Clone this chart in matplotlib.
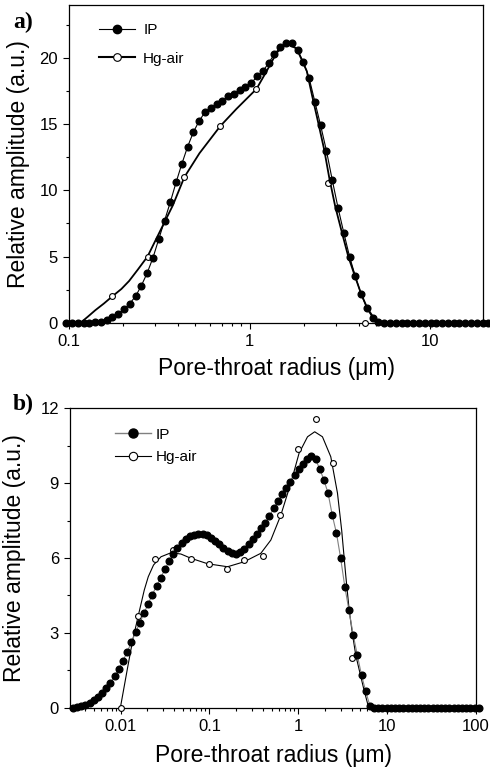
import numpy as np
import matplotlib
matplotlib.use("Agg")
import matplotlib.pyplot as plt
from matplotlib.lines import Line2D
from matplotlib.ticker import AutoMinorLocator, LogLocator, NullFormatter

plt.rcParams["font.family"] = ["Liberation Sans", "DejaVu Sans"]

# ---- panel a) ----
# IP: log-spaced radius bins (um)
ip_a_x = np.logspace(np.log10(0.0965), np.log10(20.9), 74)
ip_a_y = [0, 0, 0, 0, 0,
          0.02, 0.08, 0.2, 0.45, 0.68,
          1.0, 1.45, 2.0, 2.8, 3.75,
          4.9, 6.3, 7.7, 9.1, 10.6,
          12.0, 13.3, 14.4, 15.25, 15.9,
          16.25, 16.5, 16.75, 17.1, 17.3,
          17.55, 17.8, 18.1, 18.6, 19.0,
          19.6, 20.3, 20.8, 21.1, 21.1,
          20.6, 19.7, 18.5, 16.7, 14.9,
          13.0, 10.8, 8.7, 6.8, 5.0,
          3.5, 2.15, 1.1, 0.35, 0.08,
          0, 0, 0, 0, 0, 0, 0, 0, 0, 0,
          0, 0, 0, 0, 0, 0, 0, 0, 0]
# Hg-air measured points
hg_a_x = [0.174, 0.272, 0.435, 0.687, 1.09, 2.72, 4.35]
hg_a_y = [2.0, 5.0, 11.0, 14.85, 17.66, 10.58, 0.0]
# Hg-air smooth curve, traced
hg_a_cx = [0.116, 0.127, 0.14, 0.156, 0.174, 0.195, 0.215, 0.24, 0.272,
           0.316, 0.375, 0.435, 0.527, 0.687, 0.844, 1.09, 1.24, 1.41,
           1.60, 1.82, 2.07, 2.21, 2.39, 2.58, 2.75, 2.97, 3.23, 3.51, 3.83,
           4.14, 4.48, 4.95, 5.27, 20.0]
hg_a_cy = [0, 0.45, 0.95, 1.45, 2.0, 2.55, 3.15, 4.0, 5.0,
           6.8, 8.85, 11.0, 12.8, 14.85, 16.15, 17.66, 19.0, 20.4,
           21.1, 20.7, 19.0, 17.2, 15.15, 13.1, 11.0, 8.8, 6.86, 5.0, 3.47,
           2.16, 1.08, 0.2, 0, 0]

# ---- panel b) ----
ip_b_x = np.logspace(-2.537, 2.030, 98)
ip_b_y = [0, 0.02, 0.06, 0.12, 0.2, 0.3, 0.42, 0.58, 0.78, 1.0,
          1.26, 1.55, 1.88, 2.24, 2.62, 3.02, 3.4, 3.78, 4.16, 4.53,
          4.88, 5.21, 5.54, 5.87, 6.16, 6.42, 6.62, 6.78, 6.88, 6.94,
          6.96, 6.95, 6.91, 6.82, 6.69, 6.55, 6.42, 6.29, 6.19, 6.16,
          6.23, 6.38, 6.56, 6.75, 6.98, 7.2, 7.42, 7.69, 7.99, 8.28,
          8.55, 8.8, 9.04, 9.32, 9.56, 9.78, 9.98, 10.08, 9.95, 9.58,
          9.13, 8.6, 7.72, 7.0, 6.0, 4.85, 3.9, 2.92, 2.1, 1.3,
          0.65, 0.08,
          0, 0, 0, 0, 0, 0, 0, 0, 0, 0, 0, 0, 0,
          0, 0, 0, 0, 0, 0, 0, 0, 0, 0, 0, 0, 0]
hg_b_x = [0.01, 0.0156, 0.0244, 0.0386, 0.062, 0.0995, 0.157, 0.246,
          0.396, 0.625, 0.98, 1.57, 2.48, 3.99]
hg_b_y = [0.0, 3.69, 5.95, 6.32, 5.95, 5.76, 5.55, 5.92,
          6.08, 7.72, 10.37, 11.56, 9.82, 1.98]
hg_b_cx = [0.00995, 0.01205, 0.0137, 0.01585, 0.0185, 0.0205, 0.0235,
           0.0285, 0.0369, 0.0478, 0.0619, 0.0955, 0.160, 0.246, 0.379,
           0.491, 0.636, 0.824, 1.02, 1.27, 1.53, 1.87, 2.32, 2.76, 3.08,
           3.42, 3.74, 4.06, 4.43, 4.95, 5.49, 6.09, 6.53, 100.0]
hg_b_cy = [0, 1.64, 2.71, 3.7, 4.72, 5.25, 5.72, 6.05, 6.21,
           6.16, 5.99, 5.77, 5.65, 5.85, 6.19, 6.72, 7.72, 9.0,
           10.2, 10.86, 11.06, 10.86, 10.06, 8.6, 7.1, 5.3, 3.9, 2.98, 2.11,
           1.38, 0.71, 0.1, 0, 0]

xlab = "Pore-throat radius (\u03bcm)"
ylab = "Relative amplitude (a.u.)"

fig = plt.figure(figsize=(4.9, 7.7), dpi=100)
ax1 = fig.add_axes([0.1408, 0.5809, 0.8455, 0.4126])
ax2 = fig.add_axes([0.1429, 0.0809, 0.8286, 0.3888])


def style(ax):
    ax.set_xscale("log")
    ax.xaxis.set_minor_locator(LogLocator(base=10, subs=np.arange(2, 10)))
    ax.xaxis.set_minor_formatter(NullFormatter())
    ax.yaxis.set_minor_locator(AutoMinorLocator(2))
    ax.tick_params(which="major", direction="out", length=4, width=0.8,
                   labelsize=12, pad=4, top=False, right=False)
    ax.tick_params(which="minor", direction="out", length=2.5, width=0.8,
                   top=False, right=False)
    for s in ax.spines.values():
        s.set_linewidth(0.9)
    ax.set_xlabel(xlab, fontsize=16.5, labelpad=6)
    ax.set_ylabel(ylab, fontsize=16.5, labelpad=7)


# panel a
ax1.plot(hg_a_cx, hg_a_cy, color="k", lw=1.3, zorder=2)
ax1.plot(hg_a_x, hg_a_y, "o", ms=4.2, mfc="white", mec="k", mew=0.8,
         zorder=3, clip_on=False)
ax1.plot(ip_a_x, ip_a_y, "-o", color="k", lw=0.8, ms=4.8, mfc="k", mec="k",
         zorder=4, clip_on=False)
style(ax1)
ax1.set_xlim(0.1, 19.6)
ax1.set_ylim(0, 24)
ax1.set_yticks([0, 5, 10, 15, 20])
ax1.set_xticks([0.1, 1, 10])
ax1.set_xticklabels(["0.1", "1", "10"])
h1 = [Line2D([], [], color="k", lw=0.8, marker="o", ms=6, mfc="k", mec="k"),
      Line2D([], [], color="k", lw=1.5, marker="o", ms=5.5, mfc="white",
             mec="k", mew=0.8)]
ax1.legend(h1, ["IP", "Hg-air"], loc="upper left",
           bbox_to_anchor=(0.072, 0.943), frameon=False, fontsize=11,
           handlelength=2.4, handletextpad=0.5, labelspacing=0.95,
           borderpad=0, borderaxespad=0)

# panel b
ax2.plot(hg_b_cx, hg_b_cy, color="k", lw=0.8, zorder=2)
ax2.plot(hg_b_x, hg_b_y, "o", ms=4.2, mfc="white", mec="k", mew=0.8,
         zorder=3, clip_on=False)
ax2.plot(ip_b_x, ip_b_y, "-", color="#808080", lw=0.8, zorder=3)
ax2.plot(ip_b_x, ip_b_y, "o", ms=4.8, mfc="k", mec="k", zorder=4,
         clip_on=False)
style(ax2)
ax2.set_xlim(0.0027, 100)
ax2.set_ylim(0, 12)
ax2.set_yticks([0, 3, 6, 9, 12])
ax2.set_xticks([0.01, 0.1, 1, 10, 100])
ax2.set_xticklabels(["0.01", "0.1", "1", "10", "100"])
ax2.xaxis.labelpad = 7
ax2.yaxis.labelpad = 10
h2 = [Line2D([], [], color="#808080", lw=1.0, marker="o", ms=6.5, mfc="k",
             mec="k"),
      Line2D([], [], color="k", lw=0.8, marker="o", ms=6, mfc="white",
             mec="k", mew=0.8)]
ax2.legend(h2, ["IP", "Hg-air"], loc="upper left",
           bbox_to_anchor=(0.11, 0.935), frameon=False, fontsize=11,
           handlelength=2.4, handletextpad=0.3, labelspacing=0.55,
           borderpad=0, borderaxespad=0)

fig.text(0.047, 0.971, "a)", family=["Liberation Serif", "DejaVu Serif"],
         fontweight="bold", fontsize=17, ha="center", va="center")
fig.text(0.047, 0.475, "b)", family=["Liberation Serif", "DejaVu Serif"],
         fontweight="bold", fontsize=17, ha="center", va="center")

fig.savefig("out.png", dpi=100)
